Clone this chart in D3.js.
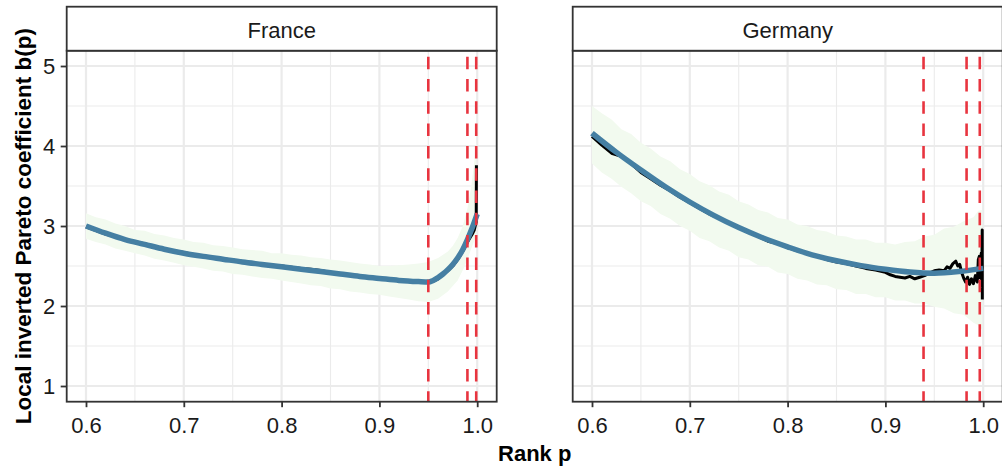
<!DOCTYPE html>
<html>
<head>
<meta charset="utf-8">
<script src="https://cdn.jsdelivr.net/npm/d3@7"></script>
<style>
html,body{margin:0;padding:0;background:#fff;}
svg{display:block;}
</style>
</head>
<body>
<svg id="chart" width="1002" height="467"></svg>
<script>
// ---------------- DATA ----------------
const panels = ["France", "Germany"];
const xTicks = [0.6, 0.7, 0.8, 0.9, 1.0];
const xTickLabels = ["0.6", "0.7", "0.8", "0.9", "1.0"];
const xMinor = [0.65, 0.75, 0.85, 0.95];
const yTicks = [1, 2, 3, 4, 5];
const yTickLabels = ["1", "2", "3", "4", "5"];
const yMinor = [1.5, 2.5, 3.5, 4.5];

// thresholds (red dashed lines)
const franceThresholds = [0.95, 0.99, 0.999];
const germanyThresholds = [0.939, 0.983, 0.9965];

// France: smoothed fit (blue)
const franceFitP = [0.600, 0.620, 0.640, 0.660, 0.680, 0.700, 0.720, 0.740, 0.760, 0.780, 0.800, 0.820, 0.840, 0.860, 0.880, 0.900, 0.920, 0.940, 0.950, 0.955, 0.960, 0.965, 0.970, 0.975, 0.980, 0.985, 0.990, 0.995, 1.000];
const franceFitB = [3.00, 2.91, 2.83, 2.77, 2.71, 2.66, 2.62, 2.585, 2.55, 2.52, 2.49, 2.46, 2.43, 2.40, 2.37, 2.345, 2.32, 2.305, 2.30, 2.32, 2.355, 2.40, 2.455, 2.52, 2.60, 2.70, 2.83, 2.98, 3.15];

// France: raw estimate (black)
const franceRawP = [0.600, 0.620, 0.640, 0.660, 0.680, 0.700, 0.720, 0.740, 0.760, 0.780, 0.800, 0.810, 0.820, 0.830, 0.840, 0.850, 0.860, 0.880, 0.900, 0.920, 0.940, 0.950, 0.955, 0.960, 0.966, 0.970, 0.975, 0.980, 0.986, 0.990, 0.993, 0.995, 0.997, 0.998, 0.9990, 0.9992];
const franceRawB = [2.99, 2.90, 2.83, 2.78, 2.71, 2.67, 2.62, 2.59, 2.555, 2.52, 2.50, 2.485, 2.47, 2.46, 2.445, 2.42, 2.40, 2.365, 2.34, 2.315, 2.30, 2.295, 2.31, 2.34, 2.41, 2.44, 2.50, 2.58, 2.70, 2.80, 2.86, 2.90, 2.95, 3.00, 3.05, 3.76];

// France: confidence band (green)
const franceBandP = [0.600, 0.610, 0.620, 0.630, 0.640, 0.650, 0.660, 0.670, 0.680, 0.690, 0.700, 0.710, 0.720, 0.730, 0.740, 0.750, 0.760, 0.770, 0.780, 0.790, 0.800, 0.810, 0.820, 0.830, 0.840, 0.850, 0.860, 0.870, 0.880, 0.890, 0.900, 0.910, 0.920, 0.930, 0.940, 0.950, 0.960, 0.970, 0.975, 0.980, 0.985, 0.990, 0.994, 0.997, 0.999];
const franceBandLo = [2.84, 2.80, 2.77, 2.72, 2.69, 2.66, 2.63, 2.59, 2.57, 2.54, 2.51, 2.49, 2.47, 2.44, 2.43, 2.40, 2.39, 2.37, 2.35, 2.34, 2.32, 2.30, 2.28, 2.26, 2.25, 2.22, 2.21, 2.18, 2.17, 2.15, 2.14, 2.12, 2.10, 2.08, 2.06, 2.05, 2.09, 2.18, 2.25, 2.32, 2.44, 2.58, 2.72, 2.82, 2.88];
const franceBandHi = [3.16, 3.11, 3.08, 3.03, 3.00, 2.95, 2.94, 2.90, 2.88, 2.85, 2.83, 2.80, 2.79, 2.76, 2.75, 2.73, 2.71, 2.70, 2.69, 2.66, 2.66, 2.64, 2.63, 2.61, 2.60, 2.58, 2.57, 2.55, 2.53, 2.52, 2.50, 2.50, 2.51, 2.52, 2.53, 2.55, 2.60, 2.68, 2.75, 2.85, 2.99, 3.22, 3.50, 3.80, 4.05];

// Germany: smoothed fit (blue)
const germanyFitP = [0.600, 0.625, 0.650, 0.675, 0.700, 0.725, 0.750, 0.775, 0.800, 0.825, 0.850, 0.875, 0.900, 0.925, 0.950, 0.975, 1.000];
const germanyFitB = [4.16, 3.92, 3.70, 3.49, 3.30, 3.13, 2.98, 2.85, 2.74, 2.64, 2.565, 2.505, 2.46, 2.425, 2.41, 2.43, 2.47];

// Germany: raw estimate (black)
const germanyRawP = [0.600, 0.610, 0.620, 0.630, 0.640, 0.650, 0.660, 0.670, 0.680, 0.690, 0.700, 0.710, 0.720, 0.730, 0.740, 0.750, 0.760, 0.770, 0.780, 0.790, 0.800, 0.810, 0.820, 0.830, 0.840, 0.850, 0.860, 0.870, 0.880, 0.890, 0.900, 0.905, 0.910, 0.915, 0.920, 0.925, 0.930, 0.935, 0.940, 0.945, 0.950, 0.955, 0.960, 0.963, 0.966, 0.969, 0.972, 0.974, 0.976, 0.978, 0.980, 0.982, 0.984, 0.986, 0.988, 0.990, 0.992, 0.994, 0.995, 0.996, 0.997, 0.998, 0.9985, 0.9990, 0.9991];
const germanyRawB = [4.12, 4.01, 3.91, 3.87, 3.78, 3.67, 3.59, 3.51, 3.44, 3.36, 3.29, 3.22, 3.15, 3.10, 3.04, 2.98, 2.92, 2.87, 2.81, 2.78, 2.73, 2.69, 2.66, 2.62, 2.58, 2.55, 2.53, 2.50, 2.47, 2.45, 2.42, 2.39, 2.37, 2.36, 2.35, 2.37, 2.34, 2.36, 2.38, 2.41, 2.44, 2.45, 2.44, 2.49, 2.47, 2.53, 2.56, 2.50, 2.52, 2.42, 2.35, 2.30, 2.36, 2.27, 2.34, 2.28, 2.38, 2.30, 2.58, 2.62, 2.35, 2.66, 2.25, 2.95, 2.08];

// Germany: confidence band (green)
const germanyBandP = [0.600, 0.610, 0.620, 0.630, 0.640, 0.650, 0.660, 0.670, 0.680, 0.690, 0.700, 0.710, 0.720, 0.730, 0.740, 0.750, 0.760, 0.770, 0.780, 0.790, 0.800, 0.810, 0.820, 0.830, 0.840, 0.850, 0.860, 0.870, 0.880, 0.890, 0.900, 0.910, 0.920, 0.930, 0.940, 0.950, 0.960, 0.970, 0.980, 0.990, 0.995, 0.999];
const germanyBandLo = [3.78, 3.67, 3.59, 3.49, 3.41, 3.31, 3.25, 3.15, 3.09, 3.00, 2.94, 2.85, 2.81, 2.73, 2.69, 2.61, 2.58, 2.51, 2.49, 2.42, 2.40, 2.34, 2.32, 2.27, 2.26, 2.21, 2.20, 2.15, 2.15, 2.11, 2.11, 2.07, 2.07, 2.03, 2.03, 1.99, 1.97, 1.91, 1.89, 1.79, 1.76, 1.70];
const germanyBandHi = [4.50, 4.41, 4.33, 4.21, 4.15, 4.04, 3.97, 3.87, 3.81, 3.71, 3.65, 3.56, 3.51, 3.43, 3.39, 3.31, 3.27, 3.20, 3.17, 3.10, 3.08, 3.02, 3.00, 2.95, 2.93, 2.88, 2.87, 2.83, 2.83, 2.79, 2.79, 2.77, 2.80, 2.81, 2.87, 2.89, 2.97, 2.99, 3.06, 3.11, 3.19, 3.20];

// ---------------- LAYOUT ----------------
const FONT = "'Liberation Sans', Arial, Helvetica, sans-serif";
const svg = d3.select("#chart");
const panelTop = 50.7, panelBottom = 401.7, stripTop = 6.7;
const panelWidth = 430;
const panelLefts = [66.7, 572.7];

const y = d3.scaleLinear().domain([1, 5]).range([386, 66]);

const data = [
  {name: panels[0], fitP: franceFitP, fitB: franceFitB, rawP: franceRawP, rawB: franceRawB,
   bandP: franceBandP, bandLo: franceBandLo, bandHi: franceBandHi, thr: franceThresholds},
  {name: panels[1], fitP: germanyFitP, fitB: germanyFitB, rawP: germanyRawP, rawB: germanyRawB,
   bandP: germanyBandP, bandLo: germanyBandLo, bandHi: germanyBandHi, thr: germanyThresholds}
];

const gridCol = "#ebebeb", borderCol = "#333333";

data.forEach((d, i) => {
  const left = panelLefts[i];
  const x0 = left + 19.3;
  const x = d3.scaleLinear().domain([0.6, 1.0]).range([x0, x0 + 391.2]);
  const g = svg.append("g");
  const clipId = "clip" + i;
  svg.append("clipPath").attr("id", clipId).append("rect")
    .attr("x", left).attr("y", panelTop).attr("width", panelWidth).attr("height", panelBottom - panelTop);

  const body = g.append("g").attr("clip-path", `url(#${clipId})`);
  // minor grid
  body.selectAll(".xminor").data(xMinor).join("line")
    .attr("x1", v => x(v)).attr("x2", v => x(v)).attr("y1", panelTop).attr("y2", panelBottom)
    .attr("stroke", gridCol).attr("stroke-width", 1.1);
  body.selectAll(".yminor").data(yMinor).join("line")
    .attr("y1", v => y(v)).attr("y2", v => y(v)).attr("x1", left).attr("x2", left + panelWidth)
    .attr("stroke", gridCol).attr("stroke-width", 1.1);
  // major grid
  body.selectAll(".xmajor").data(xTicks).join("line")
    .attr("x1", v => x(v)).attr("x2", v => x(v)).attr("y1", panelTop).attr("y2", panelBottom)
    .attr("stroke", gridCol).attr("stroke-width", 2.2);
  body.selectAll(".ymajor").data(yTicks).join("line")
    .attr("y1", v => y(v)).attr("y2", v => y(v)).attr("x1", left).attr("x2", left + panelWidth)
    .attr("stroke", gridCol).attr("stroke-width", 2.2);

  // band
  const band = d.bandP.map((p, k) => ({p, lo: d.bandLo[k], hi: d.bandHi[k]}));
  body.append("path").datum(band)
    .attr("d", d3.area().x(e => x(e.p)).y0(e => y(e.lo)).y1(e => y(e.hi)))
    .attr("fill", "#f2faef");

  // raw black line
  const raw = d.rawP.map((p, k) => ({p, b: d.rawB[k]}));
  body.append("path").datum(raw)
    .attr("d", d3.line().x(e => x(e.p)).y(e => y(e.b)))
    .attr("fill", "none").attr("stroke", "#000").attr("stroke-width", 3).attr("stroke-linejoin", "round");

  // smooth fit
  const fit = d.fitP.map((p, k) => ({p, b: d.fitB[k]}));
  body.append("path").datum(fit)
    .attr("d", d3.line().curve(d3.curveMonotoneX).x(e => x(e.p)).y(e => y(e.b)))
    .attr("fill", "none").attr("stroke", "#457fa3").attr("stroke-width", 5.5);

  // thresholds
  body.selectAll(".thr").data(d.thr).join("line")
    .attr("x1", v => x(v)).attr("x2", v => x(v)).attr("y1", panelTop).attr("y2", panelBottom)
    .attr("stroke", "#e8343f").attr("stroke-width", 2.6)
    .attr("stroke-dasharray", "12.5,9.8").attr("stroke-dashoffset", 16.3);

  // panel border
  g.append("rect").attr("x", left).attr("y", panelTop).attr("width", panelWidth).attr("height", panelBottom - panelTop)
    .attr("fill", "none").attr("stroke", borderCol).attr("stroke-width", 1.8);
  // strip
  g.append("rect").attr("x", left).attr("y", stripTop).attr("width", panelWidth).attr("height", panelTop - stripTop)
    .attr("fill", "#fff").attr("stroke", borderCol).attr("stroke-width", 1.8);
  g.append("text").attr("x", left + panelWidth / 2).attr("y", 38.3)
    .attr("text-anchor", "middle").attr("font-family", FONT).attr("font-size", 22).attr("fill", "#1a1a1a")
    .text(d.name);

  // x axis
  const xa = g.append("g").attr("transform", `translate(0,${panelBottom})`)
    .call(d3.axisBottom(x).tickValues(xTicks).tickFormat((v, k) => xTickLabels[k]).tickSize(5.5).tickPadding(10));
  xa.select(".domain").remove();
  xa.selectAll(".tick line").attr("stroke", borderCol).attr("stroke-width", 1.8);
  xa.selectAll(".tick text").attr("font-family", FONT).attr("font-size", 22).attr("fill", "#1a1a1a");

  if (i === 0) {
    const ya = g.append("g").attr("transform", `translate(${left},0)`)
      .call(d3.axisLeft(y).tickValues(yTicks).tickFormat((v, k) => yTickLabels[k]).tickSize(6).tickPadding(5.5));
    ya.select(".domain").remove();
    ya.selectAll(".tick line").attr("stroke", borderCol).attr("stroke-width", 1.8);
    ya.selectAll(".tick text").attr("font-family", FONT).attr("font-size", 22).attr("fill", "#1a1a1a");
  }
});

// axis titles
svg.append("text").attr("x", 534.7).attr("y", 461)
  .attr("text-anchor", "middle").attr("font-family", FONT).attr("font-size", 22).attr("font-weight", "bold")
  .text("Rank p");
svg.append("text").attr("transform", "translate(31,226.2) rotate(-90)")
  .attr("text-anchor", "middle").attr("font-family", FONT).attr("font-size", 22.5).attr("font-weight", "bold")
  .text("Local inverted Pareto coefficient b(p)");
</script>
</body>
</html>
